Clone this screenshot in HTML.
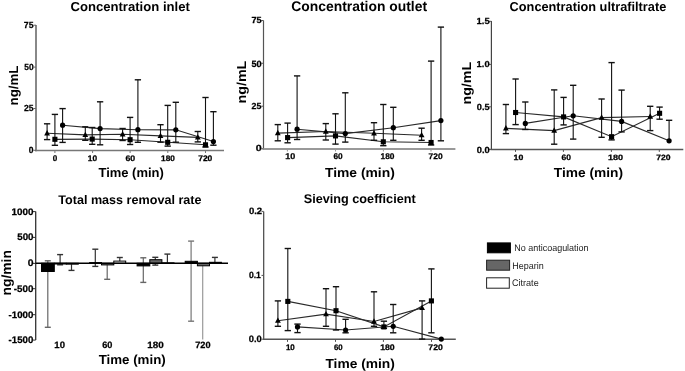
<!DOCTYPE html>
<html><head><meta charset="utf-8"><style>
html,body{margin:0;padding:0;background:#fff;}
svg{display:block;font-family:"Liberation Sans",sans-serif;filter:blur(0.45px);text-rendering:geometricPrecision;}
</style></head><body>
<svg width="685" height="371" viewBox="0 0 685 371">
<rect width="685" height="371" fill="#fff"/>
<text x="70.46" y="11.40" font-size="13.000" font-weight="bold" fill="#000" textLength="119.40" lengthAdjust="spacingAndGlyphs" >Concentration inlet</text>
<line x1="36" y1="25" x2="36" y2="151.2" stroke="#888" stroke-width="2"/>
<line x1="35" y1="150.4" x2="224" y2="150.4" stroke="#777" stroke-width="1.5"/>
<line x1="33.5" y1="25.2" x2="36" y2="25.2" stroke="#666" stroke-width="1"/>
<text x="23.82" y="28.07" font-size="8.886" font-weight="bold" fill="#000" stroke="#000" stroke-width="0.25" textLength="9.73" lengthAdjust="spacingAndGlyphs" >75</text>
<line x1="33.5" y1="67.1" x2="36" y2="67.1" stroke="#666" stroke-width="1"/>
<text x="24.23" y="69.84" font-size="8.851" font-weight="bold" fill="#000" stroke="#000" stroke-width="0.25" textLength="9.35" lengthAdjust="spacingAndGlyphs" >50</text>
<line x1="33.5" y1="108.5" x2="36" y2="108.5" stroke="#666" stroke-width="1"/>
<text x="23.94" y="111.44" font-size="8.800" font-weight="bold" fill="#000" stroke="#000" stroke-width="0.25" textLength="9.63" lengthAdjust="spacingAndGlyphs" >25</text>
<line x1="33.5" y1="150.3" x2="36" y2="150.3" stroke="#666" stroke-width="1"/>
<text x="28.80" y="152.92" font-size="8.910" font-weight="bold" fill="#000" stroke="#000" stroke-width="0.25" textLength="4.75" lengthAdjust="spacingAndGlyphs" >0</text>
<line x1="54.9" y1="150.4" x2="54.9" y2="153" stroke="#777" stroke-width="1"/>
<text x="52.63" y="160.83" font-size="8.341" font-weight="bold" fill="#000" stroke="#000" stroke-width="0.25" textLength="4.49" lengthAdjust="spacingAndGlyphs" >0</text>
<line x1="92.6" y1="150.4" x2="92.6" y2="153" stroke="#777" stroke-width="1"/>
<text x="87.89" y="160.56" font-size="8.115" font-weight="bold" fill="#000" stroke="#000" stroke-width="0.25" textLength="9.28" lengthAdjust="spacingAndGlyphs" >10</text>
<line x1="130.1" y1="150.4" x2="130.1" y2="153" stroke="#777" stroke-width="1"/>
<text x="125.48" y="160.65" font-size="8.068" font-weight="bold" fill="#000" stroke="#000" stroke-width="0.25" textLength="9.75" lengthAdjust="spacingAndGlyphs" >60</text>
<line x1="167.8" y1="150.4" x2="167.8" y2="153" stroke="#777" stroke-width="1"/>
<text x="161.09" y="160.53" font-size="8.053" font-weight="bold" fill="#000" stroke="#000" stroke-width="0.25" textLength="13.81" lengthAdjust="spacingAndGlyphs" >180</text>
<line x1="205.5" y1="150.4" x2="205.5" y2="153" stroke="#777" stroke-width="1"/>
<text x="198.20" y="160.54" font-size="8.109" font-weight="bold" fill="#000" stroke="#000" stroke-width="0.25" textLength="14.13" lengthAdjust="spacingAndGlyphs" >720</text>
<text x="98.45" y="176.70" font-size="13.000" font-weight="bold" fill="#000" textLength="65.39" lengthAdjust="spacingAndGlyphs" >Time (min)</text>
<text transform="translate(18.30,104.60) rotate(-90)" x="-0.88" y="0" font-size="13" font-weight="bold" textLength="39.99" lengthAdjust="spacingAndGlyphs">ng/mL</text>
<polyline points="47.1,133.3 85.3,134.9 122.6,134.3 160.5,135.9 197.8,137.4" fill="none" stroke="#2a2a2a" stroke-width="1.15"/>
<polyline points="54.9,139.3 92.2,139.1 130.1,139.7 167.7,142.3 205.5,144.8" fill="none" stroke="#2a2a2a" stroke-width="1.15"/>
<polyline points="62.6,125.2 100.1,128.6 137.9,129.7 175.8,129.8 213.4,141.5" fill="none" stroke="#2a2a2a" stroke-width="1.15"/>
<line x1="47.1" y1="123.8" x2="47.1" y2="139.6" stroke="#111" stroke-width="1.1"/>
<line x1="43.95" y1="123.8" x2="50.25" y2="123.8" stroke="#111" stroke-width="1.4000000000000001"/>
<line x1="43.95" y1="139.6" x2="50.25" y2="139.6" stroke="#111" stroke-width="1.4000000000000001"/>
<line x1="85.3" y1="126.8" x2="85.3" y2="140.3" stroke="#111" stroke-width="1.1"/>
<line x1="82.14999999999999" y1="126.8" x2="88.45" y2="126.8" stroke="#111" stroke-width="1.4000000000000001"/>
<line x1="82.14999999999999" y1="140.3" x2="88.45" y2="140.3" stroke="#111" stroke-width="1.4000000000000001"/>
<line x1="122.6" y1="128.5" x2="122.6" y2="140.5" stroke="#111" stroke-width="1.1"/>
<line x1="119.44999999999999" y1="128.5" x2="125.75" y2="128.5" stroke="#111" stroke-width="1.4000000000000001"/>
<line x1="119.44999999999999" y1="140.5" x2="125.75" y2="140.5" stroke="#111" stroke-width="1.4000000000000001"/>
<line x1="160.5" y1="124.7" x2="160.5" y2="142.2" stroke="#111" stroke-width="1.1"/>
<line x1="157.35" y1="124.7" x2="163.65" y2="124.7" stroke="#111" stroke-width="1.4000000000000001"/>
<line x1="157.35" y1="142.2" x2="163.65" y2="142.2" stroke="#111" stroke-width="1.4000000000000001"/>
<line x1="197.8" y1="131.5" x2="197.8" y2="141.9" stroke="#111" stroke-width="1.1"/>
<line x1="194.65" y1="131.5" x2="200.95000000000002" y2="131.5" stroke="#111" stroke-width="1.4000000000000001"/>
<line x1="194.65" y1="141.9" x2="200.95000000000002" y2="141.9" stroke="#111" stroke-width="1.4000000000000001"/>
<line x1="54.9" y1="114.4" x2="54.9" y2="145.3" stroke="#111" stroke-width="1.1"/>
<line x1="51.75" y1="114.4" x2="58.05" y2="114.4" stroke="#111" stroke-width="1.4000000000000001"/>
<line x1="51.75" y1="145.3" x2="58.05" y2="145.3" stroke="#111" stroke-width="1.4000000000000001"/>
<line x1="92.2" y1="127.5" x2="92.2" y2="144.3" stroke="#111" stroke-width="1.1"/>
<line x1="89.05" y1="127.5" x2="95.35000000000001" y2="127.5" stroke="#111" stroke-width="1.4000000000000001"/>
<line x1="89.05" y1="144.3" x2="95.35000000000001" y2="144.3" stroke="#111" stroke-width="1.4000000000000001"/>
<line x1="130.1" y1="117.4" x2="130.1" y2="144.5" stroke="#111" stroke-width="1.1"/>
<line x1="126.94999999999999" y1="117.4" x2="133.25" y2="117.4" stroke="#111" stroke-width="1.4000000000000001"/>
<line x1="126.94999999999999" y1="144.5" x2="133.25" y2="144.5" stroke="#111" stroke-width="1.4000000000000001"/>
<line x1="167.7" y1="105.4" x2="167.7" y2="146.1" stroke="#111" stroke-width="1.1"/>
<line x1="164.54999999999998" y1="105.4" x2="170.85" y2="105.4" stroke="#111" stroke-width="1.4000000000000001"/>
<line x1="164.54999999999998" y1="146.1" x2="170.85" y2="146.1" stroke="#111" stroke-width="1.4000000000000001"/>
<line x1="205.5" y1="97.5" x2="205.5" y2="147" stroke="#111" stroke-width="1.1"/>
<line x1="202.35" y1="97.5" x2="208.65" y2="97.5" stroke="#111" stroke-width="1.4000000000000001"/>
<line x1="202.35" y1="147" x2="208.65" y2="147" stroke="#111" stroke-width="1.4000000000000001"/>
<line x1="62.6" y1="108.6" x2="62.6" y2="142.4" stroke="#111" stroke-width="1.1"/>
<line x1="59.45" y1="108.6" x2="65.75" y2="108.6" stroke="#111" stroke-width="1.4000000000000001"/>
<line x1="59.45" y1="142.4" x2="65.75" y2="142.4" stroke="#111" stroke-width="1.4000000000000001"/>
<line x1="100.1" y1="101.8" x2="100.1" y2="144.8" stroke="#111" stroke-width="1.1"/>
<line x1="96.94999999999999" y1="101.8" x2="103.25" y2="101.8" stroke="#111" stroke-width="1.4000000000000001"/>
<line x1="96.94999999999999" y1="144.8" x2="103.25" y2="144.8" stroke="#111" stroke-width="1.4000000000000001"/>
<line x1="137.9" y1="79.8" x2="137.9" y2="142.3" stroke="#111" stroke-width="1.1"/>
<line x1="134.75" y1="79.8" x2="141.05" y2="79.8" stroke="#111" stroke-width="1.4000000000000001"/>
<line x1="134.75" y1="142.3" x2="141.05" y2="142.3" stroke="#111" stroke-width="1.4000000000000001"/>
<line x1="175.8" y1="102.3" x2="175.8" y2="142.2" stroke="#111" stroke-width="1.1"/>
<line x1="172.65" y1="102.3" x2="178.95000000000002" y2="102.3" stroke="#111" stroke-width="1.4000000000000001"/>
<line x1="172.65" y1="142.2" x2="178.95000000000002" y2="142.2" stroke="#111" stroke-width="1.4000000000000001"/>
<line x1="213.4" y1="111.7" x2="213.4" y2="145.2" stroke="#111" stroke-width="1.1"/>
<line x1="210.25" y1="111.7" x2="216.55" y2="111.7" stroke="#111" stroke-width="1.4000000000000001"/>
<line x1="210.25" y1="145.2" x2="216.55" y2="145.2" stroke="#111" stroke-width="1.4000000000000001"/>
<polygon points="47.10,130.06 44.20,135.46 50.00,135.46" fill="#000"/>
<polygon points="85.30,131.66 82.40,137.06 88.20,137.06" fill="#000"/>
<polygon points="122.60,131.06 119.70,136.46 125.50,136.46" fill="#000"/>
<polygon points="160.50,132.66 157.60,138.06 163.40,138.06" fill="#000"/>
<polygon points="197.80,134.16 194.90,139.56 200.70,139.56" fill="#000"/>
<rect x="52.35" y="136.75" width="5.10" height="5.10" fill="#000"/>
<rect x="89.65" y="136.55" width="5.10" height="5.10" fill="#000"/>
<rect x="127.55" y="137.15" width="5.10" height="5.10" fill="#000"/>
<rect x="165.15" y="139.75" width="5.10" height="5.10" fill="#000"/>
<rect x="202.95" y="142.25" width="5.10" height="5.10" fill="#000"/>
<circle cx="62.60" cy="125.20" r="2.60" fill="#000"/>
<circle cx="100.10" cy="128.60" r="2.60" fill="#000"/>
<circle cx="137.90" cy="129.70" r="2.60" fill="#000"/>
<circle cx="175.80" cy="129.80" r="2.60" fill="#000"/>
<circle cx="213.40" cy="141.50" r="2.60" fill="#000"/>
<text x="291.33" y="11.00" font-size="14.000" font-weight="bold" fill="#000" textLength="135.74" lengthAdjust="spacingAndGlyphs" >Concentration outlet</text>
<line x1="263.5" y1="20.5" x2="263.5" y2="149" stroke="#555" stroke-width="1.2"/>
<line x1="262.6" y1="149" x2="455.4" y2="149" stroke="#999" stroke-width="2"/>
<line x1="261.3" y1="20.5" x2="263.5" y2="20.5" stroke="#555" stroke-width="1"/>
<text x="251.42" y="23.46" font-size="8.857" font-weight="bold" fill="#000" stroke="#000" stroke-width="0.25" textLength="10.26" lengthAdjust="spacingAndGlyphs" >75</text>
<line x1="261.3" y1="63.3" x2="263.5" y2="63.3" stroke="#555" stroke-width="1"/>
<text x="251.43" y="66.60" font-size="9.076" font-weight="bold" fill="#000" stroke="#000" stroke-width="0.25" textLength="10.23" lengthAdjust="spacingAndGlyphs" >50</text>
<line x1="261.3" y1="106.2" x2="263.5" y2="106.2" stroke="#555" stroke-width="1"/>
<text x="251.57" y="108.98" font-size="8.925" font-weight="bold" fill="#000" stroke="#000" stroke-width="0.25" textLength="9.86" lengthAdjust="spacingAndGlyphs" >25</text>
<line x1="261.3" y1="148.8" x2="263.5" y2="148.8" stroke="#555" stroke-width="1"/>
<text x="255.82" y="151.38" font-size="8.906" font-weight="bold" fill="#000" stroke="#000" stroke-width="0.25" textLength="5.93" lengthAdjust="spacingAndGlyphs" >0</text>
<line x1="287.4" y1="149" x2="287.4" y2="151.5" stroke="#999" stroke-width="1"/>
<text x="285.35" y="159.05" font-size="8.373" font-weight="bold" fill="#000" stroke="#000" stroke-width="0.25" textLength="10.02" lengthAdjust="spacingAndGlyphs" >10</text>
<line x1="335.5" y1="149" x2="335.5" y2="151.5" stroke="#999" stroke-width="1"/>
<text x="333.38" y="159.13" font-size="8.329" font-weight="bold" fill="#000" stroke="#000" stroke-width="0.25" textLength="9.21" lengthAdjust="spacingAndGlyphs" >60</text>
<line x1="383.4" y1="149" x2="383.4" y2="151.5" stroke="#999" stroke-width="1"/>
<text x="380.51" y="159.04" font-size="8.232" font-weight="bold" fill="#000" stroke="#000" stroke-width="0.25" textLength="13.98" lengthAdjust="spacingAndGlyphs" >180</text>
<line x1="431.0" y1="149" x2="431.0" y2="151.5" stroke="#999" stroke-width="1"/>
<text x="428.55" y="158.98" font-size="8.178" font-weight="bold" fill="#000" stroke="#000" stroke-width="0.25" textLength="14.12" lengthAdjust="spacingAndGlyphs" >720</text>
<text x="324.94" y="176.60" font-size="13.000" font-weight="bold" fill="#000" textLength="69.84" lengthAdjust="spacingAndGlyphs" >Time (min)</text>
<text transform="translate(246.00,102.60) rotate(-90)" x="-0.94" y="0" font-size="13" font-weight="bold" textLength="42.88" lengthAdjust="spacingAndGlyphs">ng/mL</text>
<polyline points="277.8,133.1 325.8,131.5 374.0,133.3 421.6,135.2" fill="none" stroke="#2a2a2a" stroke-width="1.15"/>
<polyline points="287.6,137.6 335.5,135.9 383.3,141.8 431.1,142.5" fill="none" stroke="#2a2a2a" stroke-width="1.15"/>
<polyline points="297.1,129.2 345.3,133.6 393.3,127.7 440.9,120.6" fill="none" stroke="#2a2a2a" stroke-width="1.15"/>
<line x1="277.8" y1="124.6" x2="277.8" y2="140.8" stroke="#111" stroke-width="1.1"/>
<line x1="274.65000000000003" y1="124.6" x2="280.95" y2="124.6" stroke="#111" stroke-width="1.4000000000000001"/>
<line x1="274.65000000000003" y1="140.8" x2="280.95" y2="140.8" stroke="#111" stroke-width="1.4000000000000001"/>
<line x1="325.8" y1="123.6" x2="325.8" y2="140" stroke="#111" stroke-width="1.1"/>
<line x1="322.65000000000003" y1="123.6" x2="328.95" y2="123.6" stroke="#111" stroke-width="1.4000000000000001"/>
<line x1="322.65000000000003" y1="140" x2="328.95" y2="140" stroke="#111" stroke-width="1.4000000000000001"/>
<line x1="374" y1="122.7" x2="374" y2="140.3" stroke="#111" stroke-width="1.1"/>
<line x1="370.85" y1="122.7" x2="377.15" y2="122.7" stroke="#111" stroke-width="1.4000000000000001"/>
<line x1="370.85" y1="140.3" x2="377.15" y2="140.3" stroke="#111" stroke-width="1.4000000000000001"/>
<line x1="421.6" y1="128.2" x2="421.6" y2="140.3" stroke="#111" stroke-width="1.1"/>
<line x1="418.45000000000005" y1="128.2" x2="424.75" y2="128.2" stroke="#111" stroke-width="1.4000000000000001"/>
<line x1="418.45000000000005" y1="140.3" x2="424.75" y2="140.3" stroke="#111" stroke-width="1.4000000000000001"/>
<line x1="287.6" y1="123.1" x2="287.6" y2="142.8" stroke="#111" stroke-width="1.1"/>
<line x1="284.45000000000005" y1="123.1" x2="290.75" y2="123.1" stroke="#111" stroke-width="1.4000000000000001"/>
<line x1="284.45000000000005" y1="142.8" x2="290.75" y2="142.8" stroke="#111" stroke-width="1.4000000000000001"/>
<line x1="335.5" y1="113.8" x2="335.5" y2="144.1" stroke="#111" stroke-width="1.1"/>
<line x1="332.35" y1="113.8" x2="338.65" y2="113.8" stroke="#111" stroke-width="1.4000000000000001"/>
<line x1="332.35" y1="144.1" x2="338.65" y2="144.1" stroke="#111" stroke-width="1.4000000000000001"/>
<line x1="383.3" y1="104.5" x2="383.3" y2="145.7" stroke="#111" stroke-width="1.1"/>
<line x1="380.15000000000003" y1="104.5" x2="386.45" y2="104.5" stroke="#111" stroke-width="1.4000000000000001"/>
<line x1="380.15000000000003" y1="145.7" x2="386.45" y2="145.7" stroke="#111" stroke-width="1.4000000000000001"/>
<line x1="431.1" y1="61.1" x2="431.1" y2="145" stroke="#111" stroke-width="1.1"/>
<line x1="427.95000000000005" y1="61.1" x2="434.25" y2="61.1" stroke="#111" stroke-width="1.4000000000000001"/>
<line x1="427.95000000000005" y1="145" x2="434.25" y2="145" stroke="#111" stroke-width="1.4000000000000001"/>
<line x1="297.1" y1="75.9" x2="297.1" y2="139.5" stroke="#111" stroke-width="1.1"/>
<line x1="293.95000000000005" y1="75.9" x2="300.25" y2="75.9" stroke="#111" stroke-width="1.4000000000000001"/>
<line x1="293.95000000000005" y1="139.5" x2="300.25" y2="139.5" stroke="#111" stroke-width="1.4000000000000001"/>
<line x1="345.3" y1="92.8" x2="345.3" y2="142.1" stroke="#111" stroke-width="1.1"/>
<line x1="342.15000000000003" y1="92.8" x2="348.45" y2="92.8" stroke="#111" stroke-width="1.4000000000000001"/>
<line x1="342.15000000000003" y1="142.1" x2="348.45" y2="142.1" stroke="#111" stroke-width="1.4000000000000001"/>
<line x1="393.3" y1="107.3" x2="393.3" y2="140.3" stroke="#111" stroke-width="1.1"/>
<line x1="390.15000000000003" y1="107.3" x2="396.45" y2="107.3" stroke="#111" stroke-width="1.4000000000000001"/>
<line x1="390.15000000000003" y1="140.3" x2="396.45" y2="140.3" stroke="#111" stroke-width="1.4000000000000001"/>
<line x1="440.9" y1="27.1" x2="440.9" y2="140.8" stroke="#111" stroke-width="1.1"/>
<line x1="437.75" y1="27.1" x2="444.04999999999995" y2="27.1" stroke="#111" stroke-width="1.4000000000000001"/>
<line x1="437.75" y1="140.8" x2="444.04999999999995" y2="140.8" stroke="#111" stroke-width="1.4000000000000001"/>
<polygon points="277.80,129.86 274.90,135.26 280.70,135.26" fill="#000"/>
<polygon points="325.80,128.26 322.90,133.66 328.70,133.66" fill="#000"/>
<polygon points="374.00,130.06 371.10,135.46 376.90,135.46" fill="#000"/>
<polygon points="421.60,131.96 418.70,137.36 424.50,137.36" fill="#000"/>
<rect x="285.05" y="135.05" width="5.10" height="5.10" fill="#000"/>
<rect x="332.95" y="133.35" width="5.10" height="5.10" fill="#000"/>
<rect x="380.75" y="139.25" width="5.10" height="5.10" fill="#000"/>
<rect x="428.55" y="139.95" width="5.10" height="5.10" fill="#000"/>
<circle cx="297.10" cy="129.20" r="2.60" fill="#000"/>
<circle cx="345.30" cy="133.60" r="2.60" fill="#000"/>
<circle cx="393.30" cy="127.70" r="2.60" fill="#000"/>
<circle cx="440.90" cy="120.60" r="2.60" fill="#000"/>
<text x="509.58" y="10.60" font-size="12.900" font-weight="bold" fill="#000" textLength="156.66" lengthAdjust="spacingAndGlyphs" >Concentration ultrafiltrate</text>
<line x1="491.4" y1="21.1" x2="491.4" y2="149.4" stroke="#444" stroke-width="1.2"/>
<line x1="490.5" y1="149.4" x2="683.3" y2="149.4" stroke="#555" stroke-width="1.5"/>
<line x1="489" y1="21.3" x2="491.4" y2="21.3" stroke="#555" stroke-width="1"/>
<text x="476.64" y="24.02" font-size="8.841" font-weight="bold" fill="#000" stroke="#000" stroke-width="0.25" textLength="13.11" lengthAdjust="spacingAndGlyphs" >1.5</text>
<line x1="489" y1="64.4" x2="491.4" y2="64.4" stroke="#555" stroke-width="1"/>
<text x="476.63" y="67.44" font-size="8.733" font-weight="bold" fill="#000" stroke="#000" stroke-width="0.25" textLength="12.95" lengthAdjust="spacingAndGlyphs" >1.0</text>
<line x1="489" y1="106.8" x2="491.4" y2="106.8" stroke="#555" stroke-width="1"/>
<text x="476.84" y="109.60" font-size="8.906" font-weight="bold" fill="#000" stroke="#000" stroke-width="0.25" textLength="12.74" lengthAdjust="spacingAndGlyphs" >0.5</text>
<line x1="489" y1="149.4" x2="491.4" y2="149.4" stroke="#555" stroke-width="1"/>
<text x="476.82" y="152.53" font-size="8.919" font-weight="bold" fill="#000" stroke="#000" stroke-width="0.25" textLength="12.92" lengthAdjust="spacingAndGlyphs" >0.0</text>
<line x1="515.5" y1="149.4" x2="515.5" y2="151.9" stroke="#555" stroke-width="1"/>
<text x="513.57" y="159.56" font-size="7.676" font-weight="bold" fill="#000" stroke="#000" stroke-width="0.25" textLength="9.75" lengthAdjust="spacingAndGlyphs" >10</text>
<line x1="563.4" y1="149.4" x2="563.4" y2="151.9" stroke="#555" stroke-width="1"/>
<text x="561.57" y="159.64" font-size="7.884" font-weight="bold" fill="#000" stroke="#000" stroke-width="0.25" textLength="9.50" lengthAdjust="spacingAndGlyphs" >60</text>
<line x1="611.4" y1="149.4" x2="611.4" y2="151.9" stroke="#555" stroke-width="1"/>
<text x="608.00" y="159.58" font-size="7.712" font-weight="bold" fill="#000" stroke="#000" stroke-width="0.25" textLength="15.16" lengthAdjust="spacingAndGlyphs" >180</text>
<line x1="659.3" y1="149.4" x2="659.3" y2="151.9" stroke="#555" stroke-width="1"/>
<text x="656.25" y="159.57" font-size="7.730" font-weight="bold" fill="#000" stroke="#000" stroke-width="0.25" textLength="14.37" lengthAdjust="spacingAndGlyphs" >720</text>
<text x="553.85" y="177.00" font-size="13.000" font-weight="bold" fill="#000" textLength="69.24" lengthAdjust="spacingAndGlyphs" >Time (min)</text>
<text transform="translate(471.20,103.60) rotate(-90)" x="-0.94" y="0" font-size="13" font-weight="bold" textLength="42.68" lengthAdjust="spacingAndGlyphs">ng/mL</text>
<polyline points="505.9,128.3 554.2,130.6 601.6,117.6 650.2,116.5" fill="none" stroke="#2a2a2a" stroke-width="1.15"/>
<polyline points="515.6,112.5 563.6,116.9 611.6,136.7 659.6,113.3" fill="none" stroke="#2a2a2a" stroke-width="1.15"/>
<polyline points="525.3,123.4 573.2,115.8 621.6,121.4 669.1,140.8" fill="none" stroke="#2a2a2a" stroke-width="1.15"/>
<line x1="505.9" y1="104.5" x2="505.9" y2="133.6" stroke="#111" stroke-width="1.1"/>
<line x1="502.75" y1="104.5" x2="509.04999999999995" y2="104.5" stroke="#111" stroke-width="1.4000000000000001"/>
<line x1="502.75" y1="133.6" x2="509.04999999999995" y2="133.6" stroke="#111" stroke-width="1.4000000000000001"/>
<line x1="554.2" y1="89.9" x2="554.2" y2="144.2" stroke="#111" stroke-width="1.1"/>
<line x1="551.0500000000001" y1="89.9" x2="557.35" y2="89.9" stroke="#111" stroke-width="1.4000000000000001"/>
<line x1="551.0500000000001" y1="144.2" x2="557.35" y2="144.2" stroke="#111" stroke-width="1.4000000000000001"/>
<line x1="601.6" y1="99" x2="601.6" y2="137.3" stroke="#111" stroke-width="1.1"/>
<line x1="598.45" y1="99" x2="604.75" y2="99" stroke="#111" stroke-width="1.4000000000000001"/>
<line x1="598.45" y1="137.3" x2="604.75" y2="137.3" stroke="#111" stroke-width="1.4000000000000001"/>
<line x1="650.2" y1="106.3" x2="650.2" y2="130.6" stroke="#111" stroke-width="1.1"/>
<line x1="647.0500000000001" y1="106.3" x2="653.35" y2="106.3" stroke="#111" stroke-width="1.4000000000000001"/>
<line x1="647.0500000000001" y1="130.6" x2="653.35" y2="130.6" stroke="#111" stroke-width="1.4000000000000001"/>
<line x1="515.6" y1="79" x2="515.6" y2="124.6" stroke="#111" stroke-width="1.1"/>
<line x1="512.45" y1="79" x2="518.75" y2="79" stroke="#111" stroke-width="1.4000000000000001"/>
<line x1="512.45" y1="124.6" x2="518.75" y2="124.6" stroke="#111" stroke-width="1.4000000000000001"/>
<line x1="563.6" y1="97.4" x2="563.6" y2="124.9" stroke="#111" stroke-width="1.1"/>
<line x1="560.45" y1="97.4" x2="566.75" y2="97.4" stroke="#111" stroke-width="1.4000000000000001"/>
<line x1="560.45" y1="124.9" x2="566.75" y2="124.9" stroke="#111" stroke-width="1.4000000000000001"/>
<line x1="611.6" y1="62.6" x2="611.6" y2="139.9" stroke="#111" stroke-width="1.1"/>
<line x1="608.45" y1="62.6" x2="614.75" y2="62.6" stroke="#111" stroke-width="1.4000000000000001"/>
<line x1="608.45" y1="139.9" x2="614.75" y2="139.9" stroke="#111" stroke-width="1.4000000000000001"/>
<line x1="659.6" y1="107.1" x2="659.6" y2="119.2" stroke="#111" stroke-width="1.1"/>
<line x1="656.45" y1="107.1" x2="662.75" y2="107.1" stroke="#111" stroke-width="1.4000000000000001"/>
<line x1="656.45" y1="119.2" x2="662.75" y2="119.2" stroke="#111" stroke-width="1.4000000000000001"/>
<line x1="525.3" y1="102" x2="525.3" y2="129.5" stroke="#111" stroke-width="1.1"/>
<line x1="522.15" y1="102" x2="528.4499999999999" y2="102" stroke="#111" stroke-width="1.4000000000000001"/>
<line x1="522.15" y1="129.5" x2="528.4499999999999" y2="129.5" stroke="#111" stroke-width="1.4000000000000001"/>
<line x1="573.2" y1="85.3" x2="573.2" y2="139.1" stroke="#111" stroke-width="1.1"/>
<line x1="570.0500000000001" y1="85.3" x2="576.35" y2="85.3" stroke="#111" stroke-width="1.4000000000000001"/>
<line x1="570.0500000000001" y1="139.1" x2="576.35" y2="139.1" stroke="#111" stroke-width="1.4000000000000001"/>
<line x1="621.6" y1="90.1" x2="621.6" y2="131.9" stroke="#111" stroke-width="1.1"/>
<line x1="618.45" y1="90.1" x2="624.75" y2="90.1" stroke="#111" stroke-width="1.4000000000000001"/>
<line x1="618.45" y1="131.9" x2="624.75" y2="131.9" stroke="#111" stroke-width="1.4000000000000001"/>
<line x1="669.1" y1="120.3" x2="669.1" y2="140.8" stroke="#111" stroke-width="1.1"/>
<line x1="665.95" y1="120.3" x2="672.25" y2="120.3" stroke="#111" stroke-width="1.4000000000000001"/>
<polygon points="505.90,125.06 503.00,130.46 508.80,130.46" fill="#000"/>
<polygon points="554.20,127.36 551.30,132.76 557.10,132.76" fill="#000"/>
<polygon points="601.60,114.36 598.70,119.76 604.50,119.76" fill="#000"/>
<polygon points="650.20,113.26 647.30,118.66 653.10,118.66" fill="#000"/>
<rect x="513.05" y="109.95" width="5.10" height="5.10" fill="#000"/>
<rect x="561.05" y="114.35" width="5.10" height="5.10" fill="#000"/>
<rect x="609.05" y="134.15" width="5.10" height="5.10" fill="#000"/>
<rect x="657.05" y="110.75" width="5.10" height="5.10" fill="#000"/>
<circle cx="525.30" cy="123.40" r="2.60" fill="#000"/>
<circle cx="573.20" cy="115.80" r="2.60" fill="#000"/>
<circle cx="621.60" cy="121.40" r="2.60" fill="#000"/>
<circle cx="669.10" cy="140.80" r="2.60" fill="#000"/>
<text x="58.26" y="203.60" font-size="12.400" font-weight="bold" fill="#000" textLength="143.27" lengthAdjust="spacingAndGlyphs" >Total mass removal rate</text>
<line x1="35.7" y1="211.6" x2="35.7" y2="340.1" stroke="#333" stroke-width="1.3"/>
<line x1="33" y1="211.6" x2="35.7" y2="211.6" stroke="#333" stroke-width="1"/>
<text x="11.61" y="214.90" font-size="9.488" font-weight="bold" fill="#000" stroke="#000" stroke-width="0.25" textLength="21.93" lengthAdjust="spacingAndGlyphs" >1000</text>
<line x1="33" y1="237.4" x2="35.7" y2="237.4" stroke="#333" stroke-width="1"/>
<text x="17.25" y="240.23" font-size="9.550" font-weight="bold" fill="#000" stroke="#000" stroke-width="0.25" textLength="16.27" lengthAdjust="spacingAndGlyphs" >500</text>
<line x1="33" y1="263.4" x2="35.7" y2="263.4" stroke="#333" stroke-width="1"/>
<text x="27.74" y="266.22" font-size="9.503" font-weight="bold" fill="#000" stroke="#000" stroke-width="0.25" textLength="5.80" lengthAdjust="spacingAndGlyphs" >0</text>
<line x1="33" y1="288.7" x2="35.7" y2="288.7" stroke="#333" stroke-width="1"/>
<text x="13.84" y="291.69" font-size="9.590" font-weight="bold" fill="#000" stroke="#000" stroke-width="0.25" textLength="19.58" lengthAdjust="spacingAndGlyphs" >-500</text>
<line x1="33" y1="314.7" x2="35.7" y2="314.7" stroke="#333" stroke-width="1"/>
<text x="8.59" y="317.52" font-size="9.420" font-weight="bold" fill="#000" stroke="#000" stroke-width="0.25" textLength="24.78" lengthAdjust="spacingAndGlyphs" >-1000</text>
<line x1="33" y1="340.1" x2="35.7" y2="340.1" stroke="#333" stroke-width="1"/>
<text x="8.59" y="343.40" font-size="9.500" font-weight="bold" fill="#000" stroke="#000" stroke-width="0.25" textLength="24.77" lengthAdjust="spacingAndGlyphs" >-1500</text>
<line x1="47.8" y1="260.8" x2="47.8" y2="327.3" stroke="#666" stroke-width="1.2"/>
<line x1="44.8" y1="327.3" x2="50.8" y2="327.3" stroke="#666" stroke-width="1.4"/>
<line x1="44.8" y1="260.8" x2="50.8" y2="260.8" stroke="#666" stroke-width="1.4"/>
<line x1="60.1" y1="254.6" x2="60.1" y2="264.8" stroke="#333" stroke-width="1.2"/>
<line x1="57.1" y1="264.8" x2="63.1" y2="264.8" stroke="#333" stroke-width="1.4"/>
<line x1="57.1" y1="254.6" x2="63.1" y2="254.6" stroke="#333" stroke-width="1.4"/>
<line x1="71.5" y1="263.3" x2="71.5" y2="270.4" stroke="#333" stroke-width="1.2"/>
<line x1="68.5" y1="270.4" x2="74.5" y2="270.4" stroke="#333" stroke-width="1.4"/>
<line x1="95.3" y1="249.2" x2="95.3" y2="266.4" stroke="#333" stroke-width="1.2"/>
<line x1="92.3" y1="266.4" x2="98.3" y2="266.4" stroke="#333" stroke-width="1.4"/>
<line x1="92.3" y1="249.2" x2="98.3" y2="249.2" stroke="#333" stroke-width="1.4"/>
<line x1="107.2" y1="263.3" x2="107.2" y2="279.3" stroke="#666" stroke-width="1.2"/>
<line x1="104.2" y1="279.3" x2="110.2" y2="279.3" stroke="#666" stroke-width="1.4"/>
<line x1="119.8" y1="257.5" x2="119.8" y2="263.3" stroke="#333" stroke-width="1.2"/>
<line x1="116.8" y1="257.5" x2="122.8" y2="257.5" stroke="#333" stroke-width="1.4"/>
<line x1="143.3" y1="257.8" x2="143.3" y2="282.4" stroke="#666" stroke-width="1.2"/>
<line x1="140.3" y1="282.4" x2="146.3" y2="282.4" stroke="#666" stroke-width="1.4"/>
<line x1="140.3" y1="257.8" x2="146.3" y2="257.8" stroke="#666" stroke-width="1.4"/>
<line x1="155.3" y1="257.3" x2="155.3" y2="265.1" stroke="#333" stroke-width="1.2"/>
<line x1="152.3" y1="265.1" x2="158.3" y2="265.1" stroke="#333" stroke-width="1.4"/>
<line x1="152.3" y1="257.3" x2="158.3" y2="257.3" stroke="#333" stroke-width="1.4"/>
<line x1="167.4" y1="254.1" x2="167.4" y2="263.3" stroke="#333" stroke-width="1.2"/>
<line x1="164.4" y1="254.1" x2="170.4" y2="254.1" stroke="#333" stroke-width="1.4"/>
<line x1="191.1" y1="241.1" x2="191.1" y2="321.2" stroke="#777" stroke-width="1.2"/>
<line x1="188.1" y1="321.2" x2="194.1" y2="321.2" stroke="#777" stroke-width="1.4"/>
<line x1="188.1" y1="241.1" x2="194.1" y2="241.1" stroke="#777" stroke-width="1.4"/>
<line x1="202.7" y1="263.3" x2="202.7" y2="339.5" stroke="#999" stroke-width="1.2"/>
<line x1="214.9" y1="257.4" x2="214.9" y2="263.3" stroke="#333" stroke-width="1.2"/>
<line x1="211.9" y1="257.4" x2="217.9" y2="257.4" stroke="#333" stroke-width="1.4"/>
<rect x="41.50" y="263.30" width="12.80" height="8.20" fill="#000" stroke="#000" stroke-width="1"/>
<rect x="54.30" y="263.30" width="12.00" height="0.70" fill="#666" stroke="#000" stroke-width="1"/>
<rect x="66.30" y="263.30" width="12.00" height="0.90" fill="#fff" stroke="#000" stroke-width="1"/>
<rect x="89.60" y="262.60" width="11.90" height="0.70" fill="#000" stroke="#000" stroke-width="1"/>
<rect x="101.50" y="263.30" width="12.30" height="1.60" fill="#666" stroke="#000" stroke-width="1"/>
<rect x="113.80" y="261.10" width="11.90" height="2.20" fill="#fff" stroke="#000" stroke-width="1"/>
<rect x="137.10" y="263.30" width="12.70" height="2.60" fill="#000" stroke="#000" stroke-width="1"/>
<rect x="149.80" y="259.70" width="12.10" height="3.60" fill="#666" stroke="#000" stroke-width="1"/>
<rect x="161.90" y="262.80" width="12.10" height="0.50" fill="#fff" stroke="#000" stroke-width="1"/>
<rect x="185.20" y="261.30" width="12.20" height="2.00" fill="#000" stroke="#000" stroke-width="1"/>
<rect x="197.40" y="263.30" width="12.10" height="2.50" fill="#666" stroke="#000" stroke-width="1"/>
<rect x="209.50" y="262.30" width="11.90" height="1.00" fill="#fff" stroke="#000" stroke-width="1"/>
<line x1="35.5" y1="263.3" x2="228" y2="263.3" stroke="#000" stroke-width="1.6"/>
<text x="54.38" y="348.02" font-size="9.216" font-weight="bold" fill="#000" stroke="#000" stroke-width="0.25" textLength="10.66" lengthAdjust="spacingAndGlyphs" >10</text>
<text x="102.20" y="348.24" font-size="9.245" font-weight="bold" fill="#000" stroke="#000" stroke-width="0.25" textLength="10.23" lengthAdjust="spacingAndGlyphs" >60</text>
<text x="147.31" y="348.02" font-size="9.149" font-weight="bold" fill="#000" stroke="#000" stroke-width="0.25" textLength="16.52" lengthAdjust="spacingAndGlyphs" >180</text>
<text x="195.16" y="348.02" font-size="9.122" font-weight="bold" fill="#000" stroke="#000" stroke-width="0.25" textLength="15.34" lengthAdjust="spacingAndGlyphs" >720</text>
<text x="98.65" y="364.40" font-size="13.000" font-weight="bold" fill="#000" textLength="67.11" lengthAdjust="spacingAndGlyphs" >Time (min)</text>
<text transform="translate(10.90,294.70) rotate(-90)" x="-0.92" y="0" font-size="13.4" font-weight="bold" textLength="45.58" lengthAdjust="spacingAndGlyphs">ng/min</text>
<text x="303.74" y="203.20" font-size="12.600" font-weight="bold" fill="#000" textLength="111.92" lengthAdjust="spacingAndGlyphs" >Sieving coefficient</text>
<line x1="263.7" y1="211.4" x2="263.7" y2="339.3" stroke="#444" stroke-width="1.2"/>
<line x1="263" y1="339.3" x2="455.8" y2="339.3" stroke="#555" stroke-width="1.5"/>
<line x1="261.5" y1="211.4" x2="263.7" y2="211.4" stroke="#555" stroke-width="1"/>
<text x="248.90" y="214.44" font-size="9.134" font-weight="bold" fill="#000" stroke="#000" stroke-width="0.25" textLength="13.26" lengthAdjust="spacingAndGlyphs" >0.2</text>
<line x1="261.5" y1="275.4" x2="263.7" y2="275.4" stroke="#555" stroke-width="1"/>
<text x="248.89" y="278.44" font-size="9.091" font-weight="bold" fill="#000" stroke="#000" stroke-width="0.25" textLength="12.00" lengthAdjust="spacingAndGlyphs" >0.1</text>
<line x1="261.5" y1="339.2" x2="263.7" y2="339.2" stroke="#555" stroke-width="1"/>
<text x="248.82" y="342.45" font-size="9.226" font-weight="bold" fill="#000" stroke="#000" stroke-width="0.25" textLength="13.00" lengthAdjust="spacingAndGlyphs" >0.0</text>
<line x1="287.5" y1="339.3" x2="287.5" y2="341.9" stroke="#555" stroke-width="1"/>
<text x="285.92" y="349.58" font-size="8.160" font-weight="bold" fill="#000" stroke="#000" stroke-width="0.25" textLength="8.94" lengthAdjust="spacingAndGlyphs" >10</text>
<line x1="335.5" y1="339.3" x2="335.5" y2="341.9" stroke="#555" stroke-width="1"/>
<text x="333.93" y="349.64" font-size="8.050" font-weight="bold" fill="#000" stroke="#000" stroke-width="0.25" textLength="8.71" lengthAdjust="spacingAndGlyphs" >60</text>
<line x1="383.4" y1="339.3" x2="383.4" y2="341.9" stroke="#555" stroke-width="1"/>
<text x="380.15" y="349.58" font-size="8.091" font-weight="bold" fill="#000" stroke="#000" stroke-width="0.25" textLength="14.60" lengthAdjust="spacingAndGlyphs" >180</text>
<line x1="431.5" y1="339.3" x2="431.5" y2="341.9" stroke="#555" stroke-width="1"/>
<text x="428.32" y="349.52" font-size="8.080" font-weight="bold" fill="#000" stroke="#000" stroke-width="0.25" textLength="14.46" lengthAdjust="spacingAndGlyphs" >720</text>
<text x="325.45" y="367.50" font-size="13.000" font-weight="bold" fill="#000" textLength="69.44" lengthAdjust="spacingAndGlyphs" >Time (min)</text>
<polyline points="277.9,320.7 326.0,314.2 374.0,321.5 422.1,307.9" fill="none" stroke="#2a2a2a" stroke-width="1.15"/>
<polyline points="287.8,301.4 336.0,310.7 383.9,326.9 431.4,300.9" fill="none" stroke="#2a2a2a" stroke-width="1.15"/>
<polyline points="297.5,326.9 345.6,330.0 393.2,326.3 441.3,339.1" fill="none" stroke="#2a2a2a" stroke-width="1.15"/>
<line x1="277.9" y1="300.9" x2="277.9" y2="326.3" stroke="#111" stroke-width="1.1"/>
<line x1="274.75" y1="300.9" x2="281.04999999999995" y2="300.9" stroke="#111" stroke-width="1.4000000000000001"/>
<line x1="274.75" y1="326.3" x2="281.04999999999995" y2="326.3" stroke="#111" stroke-width="1.4000000000000001"/>
<line x1="326" y1="288.7" x2="326" y2="326.3" stroke="#111" stroke-width="1.1"/>
<line x1="322.85" y1="288.7" x2="329.15" y2="288.7" stroke="#111" stroke-width="1.4000000000000001"/>
<line x1="322.85" y1="326.3" x2="329.15" y2="326.3" stroke="#111" stroke-width="1.4000000000000001"/>
<line x1="374" y1="291.8" x2="374" y2="326.3" stroke="#111" stroke-width="1.1"/>
<line x1="370.85" y1="291.8" x2="377.15" y2="291.8" stroke="#111" stroke-width="1.4000000000000001"/>
<line x1="370.85" y1="326.3" x2="377.15" y2="326.3" stroke="#111" stroke-width="1.4000000000000001"/>
<line x1="422.1" y1="300.9" x2="422.1" y2="339.1" stroke="#111" stroke-width="1.1"/>
<line x1="418.95000000000005" y1="300.9" x2="425.25" y2="300.9" stroke="#111" stroke-width="1.4000000000000001"/>
<line x1="418.95000000000005" y1="339.1" x2="425.25" y2="339.1" stroke="#111" stroke-width="1.4000000000000001"/>
<line x1="287.8" y1="248.5" x2="287.8" y2="330.6" stroke="#111" stroke-width="1.1"/>
<line x1="284.65000000000003" y1="248.5" x2="290.95" y2="248.5" stroke="#111" stroke-width="1.4000000000000001"/>
<line x1="284.65000000000003" y1="330.6" x2="290.95" y2="330.6" stroke="#111" stroke-width="1.4000000000000001"/>
<line x1="336" y1="286.7" x2="336" y2="330" stroke="#111" stroke-width="1.1"/>
<line x1="332.85" y1="286.7" x2="339.15" y2="286.7" stroke="#111" stroke-width="1.4000000000000001"/>
<line x1="332.85" y1="330" x2="339.15" y2="330" stroke="#111" stroke-width="1.4000000000000001"/>
<line x1="383.9" y1="321.2" x2="383.9" y2="328.3" stroke="#111" stroke-width="1.1"/>
<line x1="380.75" y1="321.2" x2="387.04999999999995" y2="321.2" stroke="#111" stroke-width="1.4000000000000001"/>
<line x1="380.75" y1="328.3" x2="387.04999999999995" y2="328.3" stroke="#111" stroke-width="1.4000000000000001"/>
<line x1="431.4" y1="268.9" x2="431.4" y2="332.8" stroke="#111" stroke-width="1.1"/>
<line x1="428.25" y1="268.9" x2="434.54999999999995" y2="268.9" stroke="#111" stroke-width="1.4000000000000001"/>
<line x1="428.25" y1="332.8" x2="434.54999999999995" y2="332.8" stroke="#111" stroke-width="1.4000000000000001"/>
<line x1="297.5" y1="324.1" x2="297.5" y2="332.6" stroke="#111" stroke-width="1.1"/>
<line x1="294.35" y1="324.1" x2="300.65" y2="324.1" stroke="#111" stroke-width="1.4000000000000001"/>
<line x1="294.35" y1="332.6" x2="300.65" y2="332.6" stroke="#111" stroke-width="1.4000000000000001"/>
<line x1="345.6" y1="319.3" x2="345.6" y2="332.8" stroke="#111" stroke-width="1.1"/>
<line x1="342.45000000000005" y1="319.3" x2="348.75" y2="319.3" stroke="#111" stroke-width="1.4000000000000001"/>
<line x1="342.45000000000005" y1="332.8" x2="348.75" y2="332.8" stroke="#111" stroke-width="1.4000000000000001"/>
<line x1="393.2" y1="304.5" x2="393.2" y2="332.8" stroke="#111" stroke-width="1.1"/>
<line x1="390.05" y1="304.5" x2="396.34999999999997" y2="304.5" stroke="#111" stroke-width="1.4000000000000001"/>
<line x1="390.05" y1="332.8" x2="396.34999999999997" y2="332.8" stroke="#111" stroke-width="1.4000000000000001"/>
<polygon points="277.90,317.46 275.00,322.86 280.80,322.86" fill="#000"/>
<polygon points="326.00,310.96 323.10,316.36 328.90,316.36" fill="#000"/>
<polygon points="374.00,318.26 371.10,323.66 376.90,323.66" fill="#000"/>
<polygon points="422.10,304.66 419.20,310.06 425.00,310.06" fill="#000"/>
<rect x="285.25" y="298.85" width="5.10" height="5.10" fill="#000"/>
<rect x="333.45" y="308.15" width="5.10" height="5.10" fill="#000"/>
<rect x="381.35" y="324.35" width="5.10" height="5.10" fill="#000"/>
<rect x="428.85" y="298.35" width="5.10" height="5.10" fill="#000"/>
<circle cx="297.50" cy="326.90" r="2.60" fill="#000"/>
<circle cx="345.60" cy="330.00" r="2.60" fill="#000"/>
<circle cx="393.20" cy="326.30" r="2.60" fill="#000"/>
<circle cx="441.30" cy="339.10" r="2.60" fill="#000"/>
<rect x="487.4" y="242.9" width="23.0" height="9.9" fill="#000" stroke="#000" stroke-width="1"/>
<rect x="486.6" y="260.2" width="23" height="10" fill="#666" stroke="#222" stroke-width="1"/>
<rect x="486.6" y="277.8" width="22.7" height="10.4" fill="#fff" stroke="#222" stroke-width="1"/>
<text x="514.26" y="251.20" font-size="9.500" font-weight="normal" fill="#222" textLength="74.32" lengthAdjust="spacingAndGlyphs" >No anticoagulation</text>
<text x="512.26" y="268.50" font-size="9.500" font-weight="normal" fill="#222" textLength="31.42" lengthAdjust="spacingAndGlyphs" >Heparin</text>
<text x="511.94" y="286.00" font-size="9.500" font-weight="normal" fill="#222" textLength="26.77" lengthAdjust="spacingAndGlyphs" >Citrate</text>
</svg>
</body></html>
